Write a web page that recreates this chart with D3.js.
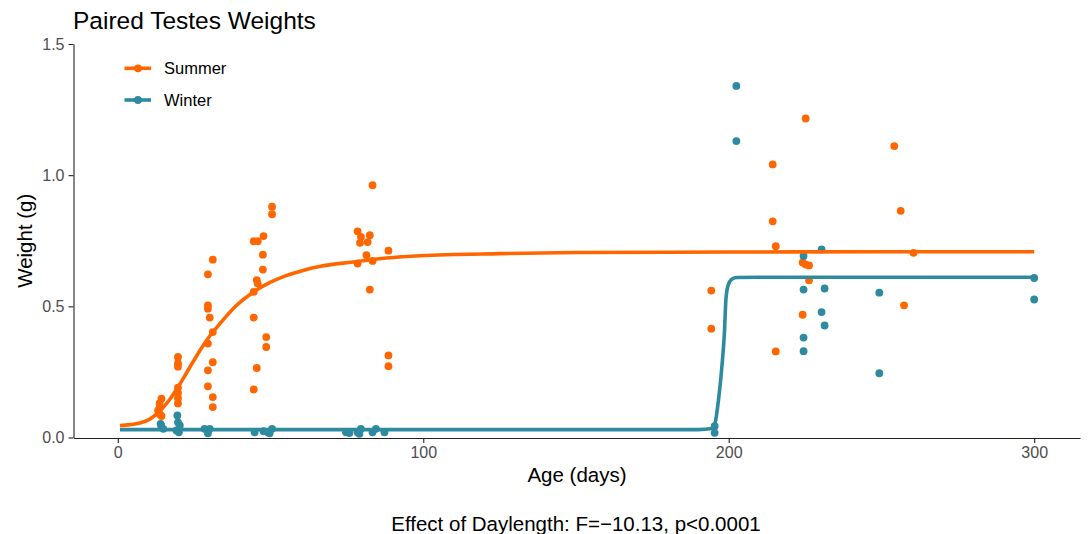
<!DOCTYPE html>
<html>
<head>
<meta charset="utf-8">
<script src="https://cdn.jsdelivr.net/npm/d3@7"></script>
<style>
  html, body { margin: 0; padding: 0; background: #fff; }
  svg { display: block; font-family: "Liberation Sans", Arial, Helvetica, sans-serif; }
</style>
</head>
<body>
<svg id="chart" width="1089" height="534"></svg>
<script>
// ---- Data ----
const summerAge = [14.3, 13.7, 13.7, 13.2, 13.7, 14.3,
  19.7, 19.7, 19.7, 19.7, 19.7, 19.7, 19.7,
  31.1, 29.5, 29.5, 29.5, 30.1, 31.1, 29.5, 31.1, 29.5, 29.5, 31.1, 31.1,
  44.5, 45.8, 47.7, 50.5, 50.5, 47.5, 47.5, 45.5, 45.8, 44.5, 44.5, 48.6, 48.6, 45.5, 44.5,
  78.5, 79.6, 79.3, 81.8, 82.5, 83.4, 81.4, 83.4, 78.5, 82.5, 88.6, 88.6, 88.6,
  194.3, 194.3,
  214.4, 214.4, 215.4, 215.4,
  225.2, 224.2, 225.2, 226.3, 226.3, 224.2,
  254.2, 256.3, 260.5, 257.4];
const summerWeight = [0.148, 0.13, 0.116, 0.103, 0.09, 0.082,
  0.307, 0.283, 0.27, 0.19, 0.17, 0.15, 0.13,
  0.678, 0.622, 0.504, 0.491, 0.457, 0.402, 0.358, 0.287, 0.256, 0.195, 0.154, 0.116,
  0.748, 0.748, 0.768, 0.88, 0.851, 0.697, 0.64, 0.60, 0.587, 0.555, 0.457, 0.383, 0.345, 0.265, 0.183,
  0.786, 0.765, 0.742, 0.745, 0.771, 0.962, 0.695, 0.673, 0.663, 0.564, 0.712, 0.313, 0.272,
  0.56, 0.415,
  1.041, 0.824, 0.729, 0.328,
  1.216, 0.667, 0.659, 0.656, 0.599, 0.468,
  1.111, 0.864, 0.704, 0.504];

const winterAge = [14.0, 14.9, 14.2,
  19.5, 19.7, 20.3, 20.0, 19.2,
  28.4, 30.1, 29.5,
  44.8, 47.7, 49.1, 50.5, 49.7,
  74.7, 75.8, 78.5, 79.6, 79.1, 83.4, 84.5, 87.3,
  195.4, 195.4,
  202.5, 202.5,
  224.5, 224.5, 224.5, 224.5,
  230.4, 230.4, 231.4, 231.4,
  249.3, 249.3,
  300, 300];
const winterWeight = [0.052, 0.033, 0.046,
  0.084, 0.058, 0.046, 0.02, 0.027,
  0.033, 0.033, 0.016,
  0.02, 0.024, 0.02, 0.033, 0.016,
  0.02, 0.017, 0.02, 0.033, 0.014, 0.02, 0.033, 0.02,
  0.043, 0.018,
  1.34, 1.13,
  0.692, 0.564, 0.381, 0.329,
  0.717, 0.478, 0.568, 0.427,
  0.552, 0.245,
  0.608, 0.526];

// fitted curves
const summerFitAge = [0.7, 4, 7.2, 10.5, 13.7, 17, 20.3, 23.5, 26.8, 30.1, 33.3, 38.8, 44.2, 49.7, 55.1, 60.6, 66, 77, 88, 99, 125, 150, 200, 250, 300];
const summerFitWeight = [0.046, 0.049, 0.055, 0.07, 0.1, 0.145, 0.203, 0.266, 0.33, 0.387, 0.432, 0.503, 0.553, 0.59, 0.617, 0.637, 0.652, 0.669, 0.684, 0.693, 0.701, 0.705, 0.707, 0.708, 0.708];
const winterFitAge = [0.7, 50, 100, 150, 190, 194.6, 195.6, 196.7, 197.8, 198.6, 199.1, 199.8, 201.1, 202.7, 210, 250, 300];
const winterFitWeight = [0.03, 0.03, 0.03, 0.03, 0.03, 0.034, 0.058, 0.148, 0.275, 0.402, 0.529, 0.58, 0.604, 0.61, 0.611, 0.611, 0.611];

const xTicks = [0, 100, 200, 300];
const yTicks = [0, 0.5, 1.0, 1.5];
const seriesNames = ["Summer", "Winter"];
const seriesColors = ["#FF6600", "#2E8B9F"];

// ---- Layout ----
const svg = d3.select("#chart");
const mLeft = 73.5, mRight = 1080, mTop = 44, mBottom = 437.5;
const x = d3.scaleLinear().domain([-14.5, 315]).range([mLeft, mRight]);
const y = d3.scaleLinear().domain([0, 1.5]).range([mBottom, mTop]);
const color = d3.scaleOrdinal().domain(seriesNames).range(seriesColors);

// axes
const xAxis = svg.append("g").attr("transform", `translate(0,${mBottom + 0.5})`)
  .call(d3.axisBottom(x).tickValues(xTicks).tickFormat(d3.format("d")).tickSize(5).tickSizeOuter(0).tickPadding(4));
const yAxis = svg.append("g").attr("transform", `translate(${mLeft},0)`)
  .call(d3.axisLeft(y).tickValues(yTicks).tickFormat(d3.format(".1f")).tickSize(5).tickSizeOuter(0).tickPadding(4));
[xAxis, yAxis].forEach(g => {
  g.select(".domain").attr("stroke", "#222").attr("stroke-width", 1.1);
  g.selectAll(".tick line").attr("stroke", "#222").attr("stroke-width", 1.1);
  g.selectAll(".tick text").attr("fill", "#4D4D4D").style("font-size", "16px")
    .style("font-family", '"Liberation Sans", Arial, sans-serif');
});

// points
const pointsData = [
  ...summerAge.map((a, i) => ({ s: "Summer", a, w: summerWeight[i] })),
  ...winterAge.map((a, i) => ({ s: "Winter", a, w: winterWeight[i] }))
];
svg.append("g").selectAll("circle").data(pointsData).join("circle")
  .attr("cx", d => x(d.a)).attr("cy", d => y(d.w)).attr("r", 3.9)
  .attr("fill", d => color(d.s));

// fitted lines
const line = d3.line().x(d => x(d[0])).y(d => y(d[1])).curve(d3.curveMonotoneX);
const fits = [
  { s: "Summer", pts: summerFitAge.map((a, i) => [a, summerFitWeight[i]]) },
  { s: "Winter", pts: winterFitAge.map((a, i) => [a, winterFitWeight[i]]) }
];
svg.append("g").selectAll("path").data(fits).join("path")
  .attr("d", d => line(d.pts)).attr("fill", "none")
  .attr("stroke", d => color(d.s)).attr("stroke-width", 3.6)
  .attr("stroke-linejoin", "round").attr("stroke-linecap", "butt");

// legend
const legend = svg.append("g");
seriesNames.forEach((n, i) => {
  const ly = 68.3 + i * 31.7;
  legend.append("line").attr("x1", 124.5).attr("x2", 151).attr("y1", ly).attr("y2", ly)
    .attr("stroke", color(n)).attr("stroke-width", 3.6);
  legend.append("circle").attr("cx", 138).attr("cy", ly).attr("r", 3.9).attr("fill", color(n));
  legend.append("text").attr("x", 164).attr("y", ly).attr("dy", "0.35em")
    .style("font-size", "16.5px").attr("fill", "#000").text(n);
});

// titles
svg.append("text").attr("x", 73).attr("y", 28.5).style("font-size", "24.5px").attr("fill", "#000")
  .text("Paired Testes Weights");
svg.append("text").attr("x", 577).attr("y", 482).attr("text-anchor", "middle")
  .style("font-size", "20.5px").attr("fill", "#000").text("Age (days)");
svg.append("text").attr("transform", `translate(32,${(mTop + mBottom) / 2}) rotate(-90)`)
  .attr("text-anchor", "middle").style("font-size", "20.5px").attr("fill", "#000").text("Weight (g)");
svg.append("text").attr("x", 576).attr("y", 530.5).attr("text-anchor", "middle")
  .style("font-size", "20.5px").attr("fill", "#000").text("Effect of Daylength: F=\u221210.13, p<0.0001");
</script>
</body>
</html>
